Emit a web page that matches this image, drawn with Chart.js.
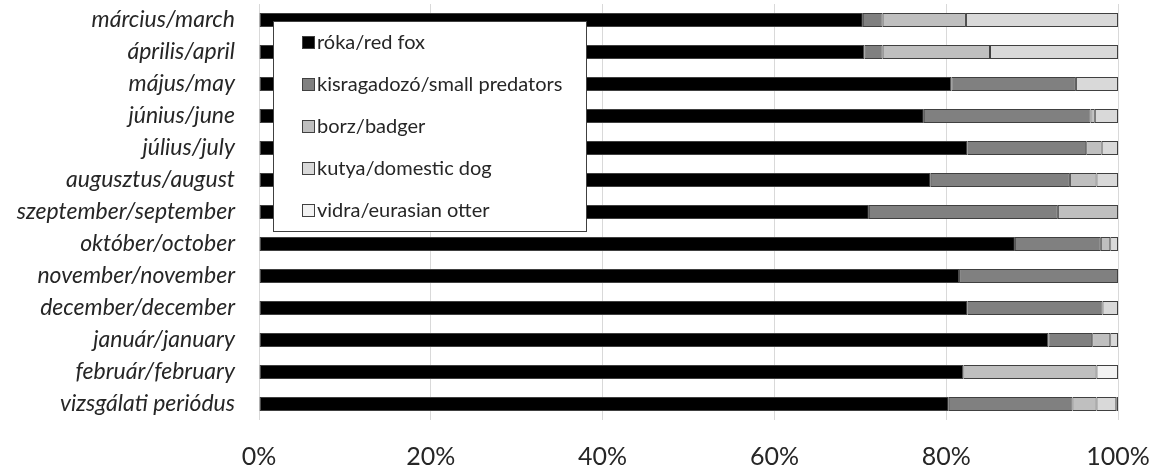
<!DOCTYPE html>
<html>
<head>
<meta charset="utf-8">
<script src="https://cdn.jsdelivr.net/npm/chart.js@4/dist/chart.umd.min.js"></script>
<style>
    html, body { margin: 0; padding: 0; background: #ffffff; }
    #wrap { width: 1158px; height: 472px; position: relative; }
</style>
</head>
<body>
<div id="wrap"><canvas id="chart"></canvas></div>
<script>
const months = [
    "március/march", "április/april", "május/may", "június/june", "július/july",
    "augusztus/august", "szeptember/september", "október/october", "november/november",
    "december/december", "január/january", "február/february", "vizsgálati periódus"
];

// percentages
const redFox = [70.3, 70.5, 80.6, 77.4, 82.5, 78.2, 71.0, 88.0, 81.5, 82.5, 91.9, 82.0, 80.3];
const smallPredators = [2.3, 2.1, 14.5, 19.4, 13.8, 16.2, 22.0, 10.0, 18.5, 15.7, 5.1, 0, 14.4];
const badger = [9.7, 12.5, 0, 0.5, 1.8, 3.1, 7.0, 1.1, 0, 0, 2.1, 15.5, 2.8];
const domesticDog = [17.7, 14.9, 4.9, 2.7, 1.9, 2.5, 0, 0.9, 0, 1.8, 0.9, 0, 2.3];
const otter = [0, 0, 0, 0, 0, 0, 0, 0, 0, 0, 0, 2.5, 0.2];

const xTicks = [0, 20, 40, 60, 80, 100];

const seriesNames = [
    "róka/red fox",
    "kisragadozó/small predators",
    "borz/badger",
    "kutya/domestic dog",
    "vidra/eurasian otter"
];
const seriesColors = ["#000000", "#808080", "#bfbfbf", "#d9d9d9", "#f2f2f2"];
const seriesData = [redFox, smallPredators, badger, domesticDog, otter];

const font = "Lato, Calibri, Carlito, sans-serif";

// legend drawn inside the plot, like the original
const boxLegend = {
    id: "boxLegend",
    afterDraw(chart) {
        const ctx = chart.ctx;
        const x = 273, y = 21, w = 313, h = 210;
        ctx.save();
        ctx.fillStyle = "#ffffff";
        ctx.fillRect(x, y, w, h);
        ctx.strokeStyle = "#404040";
        ctx.lineWidth = 1;
        ctx.strokeRect(x + 0.5, y + 0.5, w, h);
        ctx.font = "20px " + font;
        ctx.textBaseline = "middle";
        chart.data.datasets.forEach((ds, i) => {
            const cy = y + 21 + i * 42;
            ctx.fillStyle = ds.backgroundColor;
            ctx.fillRect(302, cy - 6, 13, 13);
            ctx.strokeStyle = "#404040";
            ctx.strokeRect(302.5, cy - 5.5, 12, 12);
            ctx.fillStyle = "#262626";
            ctx.fillText(ds.label, 317, cy + 1);
        });
        ctx.restore();
    }
};

new Chart(document.getElementById("chart"), {
    type: "bar",
    data: {
        labels: months,
        datasets: seriesNames.map((name, i) => ({
            label: name,
            data: seriesData[i],
            backgroundColor: seriesColors[i],
            borderColor: "#404040",
            borderWidth: 1,
            borderSkipped: false,
            categoryPercentage: 1,
            barPercentage: 0.44
        }))
    },
    options: {
        indexAxis: "y",
        responsive: true,
        maintainAspectRatio: false,
        animation: false,
        layout: { padding: { left: 0, right: 40, top: 4, bottom: 0 } },
        plugins: {
            legend: { display: false },
            tooltip: { enabled: false }
        },
        scales: {
            x: {
                stacked: true,
                min: 0,
                max: 100,
                afterBuildTicks: scale => {
                    scale.ticks = xTicks.map(v => ({ value: v }));
                },
                afterFit: scale => {
                    scale.height = 52;
                    scale.paddingLeft = 0;
                    scale.paddingRight = 0;
                },
                grid: { color: "#d9d9d9", drawTicks: false },
                border: { display: false },
                ticks: {
                    padding: 22,
                    color: "#262626",
                    font: { family: font, size: 25 },
                    callback: value => value + "%"
                }
            },
            y: {
                stacked: true,
                afterFit: scale => {
                    scale.width = 259;
                    // the label padding would otherwise push the plot down
                    scale.paddingTop = 0;
                    scale.paddingBottom = 0;
                },
                grid: { display: false, drawTicks: false },
                border: { display: false },
                ticks: {
                    padding: 24,
                    color: "#262626",
                    font: { family: font, size: 23, style: "italic" }
                }
            }
        }
    },
    plugins: [boxLegend]
});
</script>
</body>
</html>
